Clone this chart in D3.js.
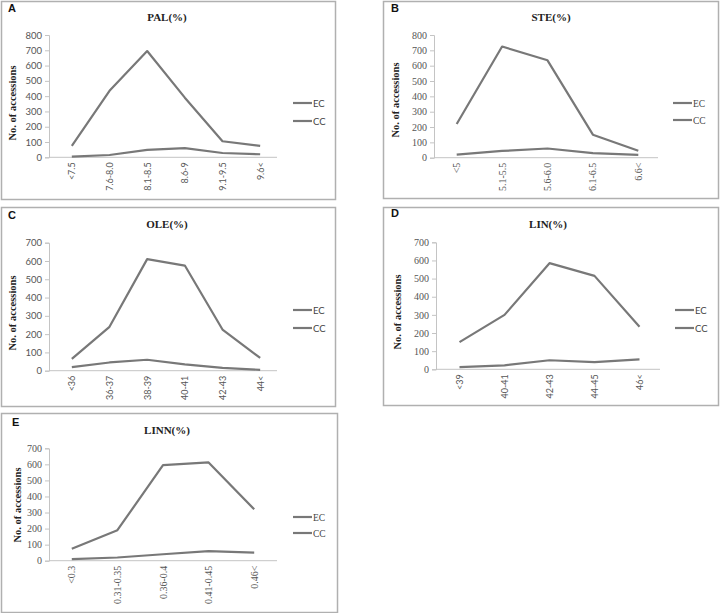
<!DOCTYPE html>
<html>
<head>
<meta charset="utf-8">
<script src="https://cdn.jsdelivr.net/npm/d3@7"></script>
<style>
  body { margin: 0; background: #fff; }
  svg { display: block; }
</style>
</head>
<body>
<div id="chart"></div>
<script>

// data
var palCats = ["<7.5", "7.6-8.0", "8.1-8.5", "8.6-9", "9.1-9.5", "9.6<"];
var palEC = [75, 435, 695, 390, 105, 75];
var palCC = [5, 15, 48, 60, 28, 20];

var steCats = ["<5", "5.1-5.5", "5.6-6.0", "6.1-6.5", "6.6<"];
var steEC = [220, 725, 635, 150, 45];
var steCC = [20, 44, 60, 30, 18];

var oleCats = ["<36", "36-37", "38-39", "40-41", "42-43", "44<"];
var oleEC = [65, 240, 610, 575, 225, 70];
var oleCC = [20, 45, 60, 35, 15, 5];

var linCats = ["<39", "40-41", "42-43", "44-45", "46<"];
var linEC = [150, 300, 585, 515, 235];
var linCC = [12, 22, 50, 40, 55];

var linnCats = ["<0.3", "0.31-0.35", "0.36-0.4", "0.41-0.45", "0.46<"];
var linnEC = [75, 190, 595, 612, 320];
var linnCC = [10, 20, 40, 60, 50];

var seriesNames = ["EC", "CC"];

var SERIF = "'Liberation Serif', 'DejaVu Serif', serif";
var SANS = "Lato, 'Liberation Sans', sans-serif";
var lineColor = "#787878";
var axisColor = "#c4c4c4";
var labelColor = "#555";

var svg = d3.select("#chart").append("svg")
    .attr("width", 720)
    .attr("height", 613);

// layout of each panel (box, plot area, text anchors)
var panels = [
  { letter: "A", title: "PAL(%)", cats: palCats, ec: palEC, cc: palCC, max: 800,
    box: [1, 1, 334, 198], axisX: 49, axisEnd: 277, band: [53, 279], yRange: [157.3, 35],
    titleXY: [167, 21], ylabXY: [12, 103], letterXY: [8, 12],
    legX: 293, legY: [103, 121],
    tickFont: SANS, xFont: SANS, legFont: SANS, tickSize: 9.5, xSize: 9 },
  { letter: "B", title: "STE(%)", cats: steCats, ec: steEC, cc: steCC, max: 800,
    box: [383, 1, 335, 197], axisX: 434, axisEnd: 658, band: [434, 661], yRange: [157.7, 35],
    titleXY: [551, 21], ylabXY: [395, 100], letterXY: [391, 12],
    legX: 673, legY: [103, 120],
    tickFont: SERIF, xFont: SERIF, legFont: SERIF, tickSize: 10, xSize: 10 },
  { letter: "C", title: "OLE(%)", cats: oleCats, ec: oleEC, cc: oleCC, max: 700,
    box: [1, 207, 334, 199], axisX: 49, axisEnd: 277, band: [53, 279], yRange: [370.7, 242.7],
    titleXY: [167, 228], ylabXY: [12, 313], letterXY: [8, 219],
    legX: 293, legY: [310, 328],
    tickFont: SANS, xFont: SANS, legFont: SANS, tickSize: 9.5, xSize: 9 },
  { letter: "D", title: "LIN(%)", cats: linCats, ec: linEC, cc: linCC, max: 700,
    box: [383, 207, 335, 198], axisX: 436, axisEnd: 660, band: [437, 662], yRange: [369.3, 242.3],
    titleXY: [548, 228], ylabXY: [397, 312], letterXY: [391, 217],
    legX: 675, legY: [310, 328],
    tickFont: SERIF, xFont: SANS, legFont: SANS, tickSize: 10, xSize: 9 },
  { letter: "E", title: "LINN(%)", cats: linnCats, ec: linnEC, cc: linnCC, max: 700,
    box: [1, 413, 336, 199], axisX: 49, axisEnd: 277, band: [49, 277], yRange: [560.7, 448.3],
    titleXY: [167, 434], ylabXY: [17, 505], letterXY: [12, 426],
    legX: 293, legY: [517, 533],
    tickFont: SERIF, xFont: SERIF, legFont: SERIF, tickSize: 10, xSize: 10 }
];

function drawPanel(p) {
  var g = svg.append("g");

  g.append("rect")
      .attr("x", p.box[0] + 0.5)
      .attr("y", p.box[1] + 0.5)
      .attr("width", p.box[2])
      .attr("height", p.box[3])
      .attr("fill", "#fff")
      .attr("stroke", "#b0b0b0")
      .attr("stroke-width", 1.5);

  var x = d3.scaleBand().domain(p.cats).range(p.band);
  var y = d3.scaleLinear().domain([0, p.max]).range(p.yRange);
  var cx = function(c) { return x(c) + x.bandwidth() / 2; };

  // y axis
  var yAxis = d3.axisLeft(y).ticks(p.max / 100).tickSize(4).tickPadding(3);
  var yg = g.append("g")
      .attr("transform", "translate(" + p.axisX + ",0)")
      .call(yAxis);
  yg.select(".domain").attr("stroke", axisColor);
  yg.selectAll(".tick line").attr("stroke", axisColor);
  yg.selectAll(".tick text")
      .attr("fill", labelColor)
      .style("font-family", p.tickFont)
      .style("font-size", p.tickSize + "px");

  // x axis line and rotated category labels
  g.append("line")
      .attr("x1", p.axisX).attr("x2", p.axisEnd)
      .attr("y1", y(0)).attr("y2", y(0))
      .attr("stroke", axisColor)
      .attr("stroke-width", 1);

  g.selectAll(".xlab")
    .data(p.cats)
    .enter().append("text")
      .attr("transform", function(d) {
        return "translate(" + (cx(d) + 3.5) + "," + (y(0) + 5) + ") rotate(-90)";
      })
      .attr("text-anchor", "end")
      .attr("fill", labelColor)
      .style("font-family", p.xFont)
      .style("font-size", p.xSize + "px")
      .text(function(d) { return d; });

  // lines
  var line = d3.line()
      .x(function(d) { return cx(d.cat); })
      .y(function(d) { return y(d.v); });

  [p.ec, p.cc].forEach(function(vals) {
    var pts = p.cats.map(function(c, i) { return { cat: c, v: vals[i] }; });
    g.append("path")
        .datum(pts)
        .attr("fill", "none")
        .attr("stroke", lineColor)
        .attr("stroke-width", 2.2)
        .attr("stroke-linejoin", "round")
        .attr("d", line);
  });

  // legend
  seriesNames.forEach(function(name, i) {
    g.append("line")
        .attr("x1", p.legX).attr("x2", p.legX + 19)
        .attr("y1", p.legY[i]).attr("y2", p.legY[i])
        .attr("stroke", lineColor)
        .attr("stroke-width", 2.2);
    g.append("text")
        .attr("x", p.legX + 20)
        .attr("y", p.legY[i] + 3.5)
        .attr("fill", "#444")
        .style("font-family", p.legFont)
        .style("font-size", "9.5px")
        .text(name);
  });

  // title, axis title, panel letter
  g.append("text")
      .attr("x", p.titleXY[0])
      .attr("y", p.titleXY[1])
      .attr("text-anchor", "middle")
      .style("font-family", SERIF)
      .style("font-weight", "bold")
      .style("font-size", "11px")
      .attr("fill", "#222")
      .text(p.title);

  g.append("text")
      .attr("transform", "translate(" + (p.ylabXY[0] + 3.5) + "," + p.ylabXY[1] + ") rotate(-90)")
      .attr("text-anchor", "middle")
      .style("font-family", SERIF)
      .style("font-weight", "bold")
      .style("font-size", "10.5px")
      .attr("fill", "#222")
      .text("No. of accessions");

  g.append("text")
      .attr("x", p.letterXY[0])
      .attr("y", p.letterXY[1])
      .style("font-family", "'Liberation Sans', Arial, sans-serif")
      .style("font-weight", "bold")
      .style("font-size", "11px")
      .attr("fill", "#111")
      .text(p.letter);
}

panels.forEach(drawPanel);
</script>
</body>
</html>
